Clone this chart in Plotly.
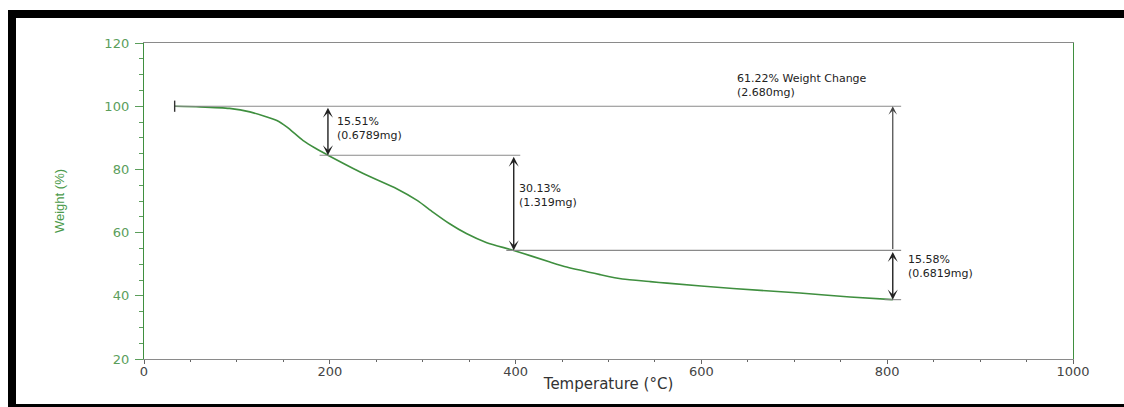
import plotly.graph_objects as go

# ---------------- data ----------------
temps = [33, 60, 92, 114, 143, 154, 171, 185, 198, 236, 272, 294, 311, 329, 347,
         369, 398, 437, 455, 491, 515, 545, 563, 634, 706, 760, 806]
weights = [100.0, 99.8, 99.3, 98.2, 95.5, 93.4, 89.2, 86.6, 84.49, 78.7, 73.9, 70.2,
           66.5, 62.8, 59.7, 56.8, 54.36, 50.7, 49.1, 46.7, 45.3, 44.5, 44.0, 42.3,
           40.9, 39.6, 38.78]

start_T = 33
step_T = [198, 398, 806]                 # temperatures of the step markers
level_W = [100.0, 84.49, 54.36, 38.78]   # weight levels (%)
step_labels = ["15.51%<br>(0.6789mg)",
               "30.13%<br>(1.319mg)",
               "15.58%<br>(0.6819mg)"]
total_label = "61.22% Weight Change<br>(2.680mg)"

x_ticks = [0, 200, 400, 600, 800, 1000]
y_ticks = [20, 40, 60, 80, 100, 120]

# ---------------- styling ----------------
W, H = 1124, 407
L, R, T, B = 144, 51, 43, 48
PW, PH = W - L - R, H - T - B
GREEN = "#3f8f3f"
TICKGREEN = "#5b9e5b"
GRAY = "#8a8a8a"
TXT = "#222222"
ANN_FONT = dict(family="DejaVu Sans", size=11, color=TXT)


def px_x(p):
    return (p - L) / PW


def px_y(p):
    return (H - B - p) / PH


fig = go.Figure()

# curve
fig.add_trace(go.Scatter(x=temps, y=weights, mode="lines",
                         line=dict(color=GREEN, width=1.6, shape="spline", smoothing=0.6),
                         hoverinfo="skip", showlegend=False))

# horizontal reference lines
segs = [(start_T, step_T[2] + 9, level_W[0]),
        (step_T[0] - 9, step_T[1] + 7, level_W[1]),
        (step_T[1] - 8, step_T[2] + 9, level_W[2]),
        (step_T[2] - 9, step_T[2] + 9, level_W[3])]
sx, sy = [], []
for a, b, w in segs:
    sx += [a, b, None]
    sy += [w, w, None]
fig.add_trace(go.Scatter(x=sx, y=sy, mode="lines", line=dict(color=GRAY, width=1.1),
                         hoverinfo="skip", showlegend=False))

# start marker
fig.add_trace(go.Scatter(x=[start_T], y=[level_W[0]], mode="markers",
                         marker=dict(symbol="line-ns", size=8,
                                     line=dict(color="#333333", width=1.4)),
                         hoverinfo="skip", showlegend=False))

annotations = []
# step arrows (double headed)
for i, t in enumerate(step_T):
    annotations.append(dict(x=t, y=level_W[i + 1], ax=t, ay=level_W[i],
                            xref="x", yref="y", axref="x", ayref="y", text="",
                            showarrow=True, arrowside="end+start",
                            arrowhead=3, startarrowhead=3, arrowsize=1.2, startarrowsize=1.2,
                            arrowwidth=1.4, arrowcolor="#222222", standoff=0, startstandoff=0))
# total arrow
annotations.append(dict(x=step_T[2], y=level_W[0], ax=step_T[2], ay=level_W[2],
                        xref="x", yref="y", axref="x", ayref="y", text="",
                        showarrow=True, arrowhead=3, arrowsize=1.2, arrowwidth=1.2,
                        arrowcolor="#444444", standoff=0))

# labels
label_pos = [(step_T[0] + 8, 93.0), (step_T[1] + 3, 71.8), (step_T[2] + 14, 49.3)]
for (lx, ly), txt in zip(label_pos, step_labels):
    annotations.append(dict(x=lx, y=ly, xref="x", yref="y", text=txt,
                            showarrow=False, xanchor="left", yanchor="middle",
                            align="left", font=ANN_FONT))
annotations.append(dict(x=636, y=106.6, xref="x", yref="y", text=total_label,
                        showarrow=False, xanchor="left", yanchor="middle",
                        align="left", font=ANN_FONT))

# black frame around the picture
shapes = []
for (x0, y0, x1, y1) in [(8, 10, W, 18), (8, 10, 16, H), (8, 404, W, H)]:
    shapes.append(dict(type="rect", xref="paper", yref="paper",
                       x0=px_x(x0), x1=px_x(x1), y0=px_y(y0), y1=px_y(y1),
                       fillcolor="black", line=dict(width=0), layer="above"))

fig.update_layout(
    width=W, height=H,
    margin=dict(l=L, r=R, t=T, b=B, pad=0),
    paper_bgcolor="white", plot_bgcolor="white",
    showlegend=False,
    annotations=annotations,
    shapes=shapes,
    xaxis=dict(range=[0, 1000], tickvals=x_ticks, ticktext=[str(v) for v in x_ticks],
               showgrid=False, zeroline=False,
               showline=True, linecolor=GRAY, linewidth=1.2, mirror=True,
               ticks="outside", ticklen=4, tickcolor="#666666", tickwidth=1,
               minor=dict(dtick=50, ticks="outside", ticklen=2, tickcolor="#666666"),
               ticklabelstandoff=-4,
               tickfont=dict(family="DejaVu Sans", size=13, color="#444444"),
               title=dict(text="Temperature (°C)", standoff=0,
                          font=dict(family="DejaVu Sans", size=15, color="#333333"))),
    yaxis=dict(range=[20, 120], tickvals=y_ticks, ticktext=[str(v) for v in y_ticks],
               showgrid=False, zeroline=False,
               showline=True, linecolor=GREEN, linewidth=1.4, mirror=True,
               ticks="outside", ticklen=8, tickcolor=TICKGREEN, tickwidth=1,
               minor=dict(dtick=5, ticks="outside", ticklen=4, tickcolor=TICKGREEN),
               ticklabelstandoff=3,
               tickfont=dict(family="DejaVu Sans", size=13, color=TICKGREEN),
               title=dict(text="Weight (%)", standoff=36,
                          font=dict(family="Liberation Sans", size=13, color="#4a9a4a"))),
)

fig.write_html("out.html")
